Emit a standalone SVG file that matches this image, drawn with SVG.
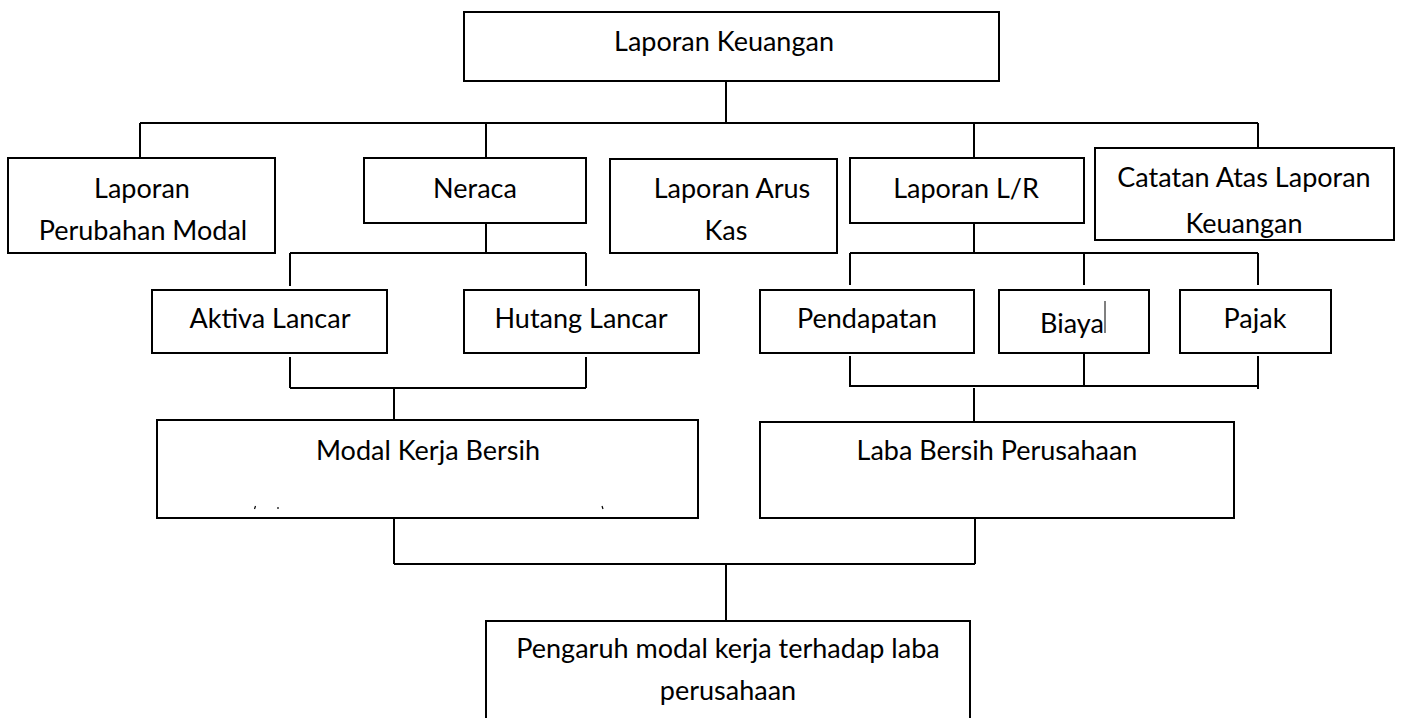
<svg xmlns="http://www.w3.org/2000/svg" width="1402" height="718" viewBox="0 0 1402 718">
<style>
.box{fill:#fff;stroke:#000;stroke-width:2}
.ln{stroke:#000;stroke-width:2;fill:none}
text{font-family:Lato,"Open Sans",sans-serif;font-size:27px;fill:#000;text-anchor:middle}
</style>
<defs>
<clipPath id="cCat"><rect x="1095" y="148" width="299" height="91"/></clipPath>
</defs>
<rect width="1402" height="718" fill="#fff"/>
<g id="connectors">
<path class="ln" d="M726 81V123M140 123H1258M140 123V158M486 123V158M974 123V158M1258 123V148"/>
<path class="ln" d="M486 223V253M290 253H586M290 253V286M586 253V286"/>
<path class="ln" d="M290 357V388M586 357V388M290 388H586M394 388V420"/>
<path class="ln" d="M974 223V253M850 253H1258M850 253V285M1084 253V285M1258 253V285"/>
<path class="ln" d="M850 356V387M1084 353V386M1258 356V389M850 386H1258M974 388V422"/>
<path class="ln" d="M394 518V564M975 518V564M394 564H975M726 564V621"/>
</g>
<g id="n-laporan-keuangan"><rect class="box" x="464" y="12" width="535" height="69"/><text x="724" y="51">Laporan Keuangan</text></g>
<g id="n-perubahan-modal"><rect class="box" x="8" y="158" width="267" height="95"/><text x="142" y="198">Laporan</text><text x="143" y="240">Perubahan Modal</text></g>
<g id="n-neraca"><rect class="box" x="364" y="158" width="222" height="65"/><text x="475" y="198">Neraca</text></g>
<g id="n-arus-kas"><rect class="box" x="610" y="159" width="227" height="94"/><text x="732" y="198">Laporan Arus</text><text x="726" y="240">Kas</text></g>
<g id="n-laba-rugi"><rect class="box" x="850" y="158" width="234" height="65"/><text x="966" y="198">Laporan L/R</text></g>
<g id="n-catatan"><rect class="box" x="1095" y="148" width="299" height="92"/><g clip-path="url(#cCat)"><text x="1244" y="187">Catatan Atas Laporan</text><text x="1244" y="233">Keuangan</text></g></g>
<g id="n-aktiva"><rect class="box" x="152" y="290" width="235" height="63"/><text x="270" y="328">Aktiva Lancar</text></g>
<g id="n-hutang"><rect class="box" x="464" y="290" width="235" height="63"/><text x="581" y="328">Hutang Lancar</text></g>
<g id="n-pendapatan"><rect class="box" x="760" y="290" width="214" height="63"/><text x="867" y="328">Pendapatan</text></g>
<g id="n-biaya"><rect class="box" x="999" y="290" width="150" height="63"/><text x="1072" y="333">Biaya</text><line x1="1105" y1="301" x2="1105" y2="333" stroke="#000" stroke-width="1"/></g>
<g id="n-pajak"><rect class="box" x="1180" y="290" width="151" height="63"/><text x="1255" y="328">Pajak</text></g>
<g id="n-modal-kerja"><rect class="box" x="157" y="420" width="541" height="98"/><text x="428" y="460">Modal Kerja Bersih</text>
<line x1="255.5" y1="506" x2="254.5" y2="509" stroke="#000" stroke-width="1.2"/><line x1="278" y1="507" x2="278" y2="509" stroke="#000" stroke-width="1.2"/><line x1="602" y1="506" x2="603" y2="509" stroke="#000" stroke-width="1.2"/></g>
<g id="n-laba-bersih"><rect class="box" x="760" y="422" width="474" height="96"/><text x="997" y="460">Laba Bersih Perusahaan</text></g>
<g id="n-pengaruh"><rect class="box" x="486" y="621" width="484" height="110"/><text x="728" y="658">Pengaruh modal kerja terhadap laba</text><text x="728" y="700">perusahaan</text></g>
</svg>
